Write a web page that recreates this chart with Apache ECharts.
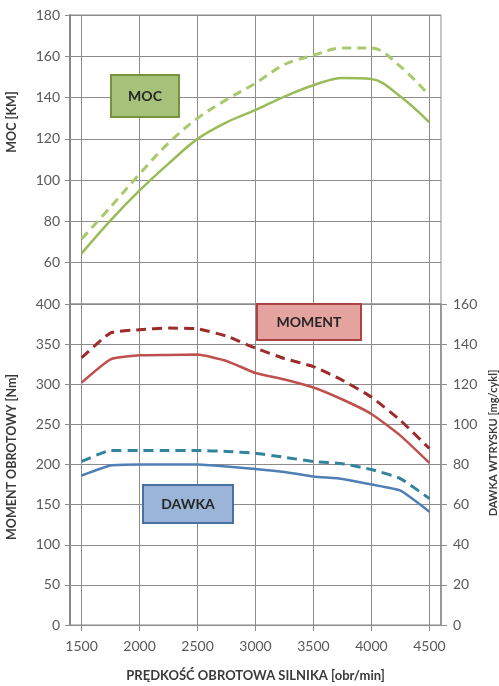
<!DOCTYPE html>
<html>
<head>
<meta charset="utf-8">
<script src="https://cdn.jsdelivr.net/npm/echarts@6/dist/echarts.min.js"></script>
<style>
html,body{margin:0;padding:0;background:#fff;}
#chart{width:499px;height:686px;}
</style>
</head>
<body>
<div id="chart"></div>
<script>
// ---- data ----
const rpm = [1500, 1750, 2000, 2250, 2500, 2750, 3000, 3250, 3500, 3750, 4000, 4250, 4500];
const mocSolid    = [64.5, 80.5, 95, 108, 120, 128, 134, 140.5, 146, 149.5, 149, 140.5, 128];
const mocDashed   = [71.5, 87, 103, 118, 130, 139, 147, 156, 160.5, 164, 164, 155, 141];
const momentSolid = [302, 331, 336, 336.5, 337, 329, 314, 306, 296, 281, 263, 236, 202];
const momentDashed= [333, 364, 368, 370, 369, 360, 345, 332, 322, 305, 284, 255, 220];
const dawkaSolid  = [74.5, 79.5, 80, 80, 80, 79, 77.8, 76.3, 74, 72.8, 70, 67, 56.5];
const dawkaDashed = [81.5, 87, 87, 87, 87, 86.5, 85.6, 83.6, 81.5, 80.4, 77.5, 73, 63];

const xTicks = [1500, 2000, 2500, 3000, 3500, 4000, 4500];
const mocTicks = [60, 80, 100, 120, 140, 160, 180];
const mocTickMarks = [40, 60, 80, 100, 120, 140, 160, 180];
const momentTicks = [0, 50, 100, 150, 200, 250, 300, 350, 400];
const dawkaTicks = [0, 20, 40, 60, 80, 100, 120, 140, 160];

const xTitle = 'PRĘDKOŚĆ OBROTOWA SILNIKA [obr/min]';
const mocTitle = 'MOC [KM]';
const momentTitle = 'MOMENT OBROTOWY [Nm]';
const dawkaTitle = 'DAWKA WTRYSKU [mg/cykl]';
const boxLabels = ['MOC', 'MOMENT', 'DAWKA'];

// ---- chart ----
const FONT = 'Lato, "Open Sans", sans-serif';
const GRID = '#8c8c8c';
const LBL = '#595959';
const pair = (ys) => rpm.map((x, i) => [x, ys[i]]);
const plain = (v) => String(v);

const chart = echarts.init(document.getElementById('chart'), null, {renderer: 'canvas'});

const xBase = {
  type: 'value', min: 1400, max: 4600,
  axisLine: {show: false},
  splitLine: {show: true, lineStyle: {color: GRID, width: 1}}
};

function box(x, y, w, h, fill, stroke, label) {
  return {
    type: 'group', z: 20,
    children: [
      {type: 'rect', z: 20, shape: {x: x, y: y, width: w, height: h},
       style: {fill: fill, stroke: stroke, lineWidth: 2}},
      {type: 'text', z: 21, x: x + w / 2, y: y + h / 2,
       style: {text: label, font: 'bold 14px ' + FONT, fill: '#262626', align: 'center', verticalAlign: 'middle'}}
    ]
  };
}

const option = {
  animation: false,
  backgroundColor: '#fff',
  textStyle: {fontFamily: FONT},
  grid: [
    {left: 70, top: 15, width: 371, height: 289, show: true, borderColor: GRID, borderWidth: 1, outerBoundsMode: 'none', containLabel: false},
    {left: 70, top: 304, width: 371, height: 321, show: true, borderColor: GRID, borderWidth: 1, outerBoundsMode: 'none', containLabel: false}
  ],
  xAxis: [
    Object.assign({}, xBase, {
      gridIndex: 0,
      axisTick: {show: false, customValues: xTicks},
      axisLabel: {show: false, customValues: xTicks}
    }),
    Object.assign({}, xBase, {
      gridIndex: 1,
      axisLine: {show: true, onZero: false, lineStyle: {color: GRID, width: 1}},
      axisTick: {show: true, length: 6, customValues: xTicks, lineStyle: {color: GRID}},
      axisLabel: {show: true, customValues: xTicks, formatter: plain, margin: 14, color: LBL, fontSize: 14, fontFamily: FONT},
      name: xTitle, nameLocation: 'middle', nameGap: 44,
      nameTextStyle: {fontSize: 13, fontWeight: 'bold', color: '#3a3a3a', fontFamily: FONT}
    })
  ],
  yAxis: [
    {
      gridIndex: 0, type: 'value', min: 40, max: 180,
      axisLine: {show: true, lineStyle: {color: '#888', width: 2}},
      axisTick: {show: true, length: 5, customValues: mocTickMarks, lineStyle: {color: GRID}},
      axisLabel: {customValues: mocTicks, formatter: plain, margin: 10, color: LBL, fontSize: 14, fontFamily: FONT},
      splitLine: {show: true, lineStyle: {color: GRID, width: 1}}
    },
    {
      gridIndex: 1, type: 'value', min: momentTicks[0], max: momentTicks[momentTicks.length - 1],
      interval: momentTicks[1] - momentTicks[0],
      axisLine: {show: true, lineStyle: {color: '#888', width: 2}},
      axisTick: {show: true, length: 5, lineStyle: {color: GRID}},
      axisLabel: {formatter: plain, margin: 10, color: LBL, fontSize: 14, fontFamily: FONT},
      splitLine: {show: true, lineStyle: {color: GRID, width: 1}}
    },
    {
      gridIndex: 1, type: 'value', position: 'right',
      min: dawkaTicks[0], max: dawkaTicks[dawkaTicks.length - 1],
      interval: dawkaTicks[1] - dawkaTicks[0],
      axisLine: {show: true, lineStyle: {color: '#8a8a8a', width: 1.5}},
      axisTick: {show: true, length: 6, lineStyle: {color: GRID}},
      axisLabel: {formatter: plain, margin: 12, color: LBL, fontSize: 14, fontFamily: FONT},
      splitLine: {show: false}
    }
  ],
  series: [
    {name: 'MOC', type: 'line', xAxisIndex: 0, yAxisIndex: 0, data: pair(mocSolid),
     smooth: 0.35, symbol: 'none', lineStyle: {color: '#9bbb59', width: 2.5}},
    {name: 'MOC max', type: 'line', xAxisIndex: 0, yAxisIndex: 0, data: pair(mocDashed),
     smooth: 0.35, symbol: 'none', lineStyle: {color: '#a9c96c', width: 3, type: [9, 6]}},
    {name: 'MOMENT', type: 'line', xAxisIndex: 1, yAxisIndex: 1, data: pair(momentSolid),
     smooth: 0.15, symbol: 'none', lineStyle: {color: '#c0504d', width: 2.5}},
    {name: 'MOMENT max', type: 'line', xAxisIndex: 1, yAxisIndex: 1, data: pair(momentDashed),
     smooth: 0.15, symbol: 'none', lineStyle: {color: '#9e2b2b', width: 3, type: [10, 6]}},
    {name: 'DAWKA', type: 'line', xAxisIndex: 1, yAxisIndex: 2, data: pair(dawkaSolid),
     smooth: 0.15, symbol: 'none', lineStyle: {color: '#4f7fb5', width: 2.5}},
    {name: 'DAWKA max', type: 'line', xAxisIndex: 1, yAxisIndex: 2, data: pair(dawkaDashed),
     smooth: 0.15, symbol: 'none', lineStyle: {color: '#31849b', width: 3, type: [10, 6]}}
  ],
  graphic: [
    {type: 'text', x: 12, y: 122, rotation: Math.PI / 2,
     style: {text: mocTitle, font: 'bold 12.5px ' + FONT, fill: '#3a3a3a', align: 'center', verticalAlign: 'middle'}},
    {type: 'text', x: 12, y: 457, rotation: Math.PI / 2,
     style: {text: momentTitle, font: 'bold 12.5px ' + FONT, fill: '#3a3a3a', align: 'center', verticalAlign: 'middle'}},
    {type: 'text', x: 493, y: 443, rotation: Math.PI / 2,
     style: {text: dawkaTitle, font: 'bold 11px ' + FONT, fill: '#3a3a3a', align: 'center', verticalAlign: 'middle'}},
    box(111, 75, 68, 42, '#a6c179', '#76923c', boxLabels[0]),
    box(257, 304, 104, 36, '#e5a3a0', '#a94442', boxLabels[1]),
    box(143, 485, 90, 38, '#9ab5d8', '#4a6fa5', boxLabels[2])
  ]
};
chart.setOption(option);
</script>
</body>
</html>
